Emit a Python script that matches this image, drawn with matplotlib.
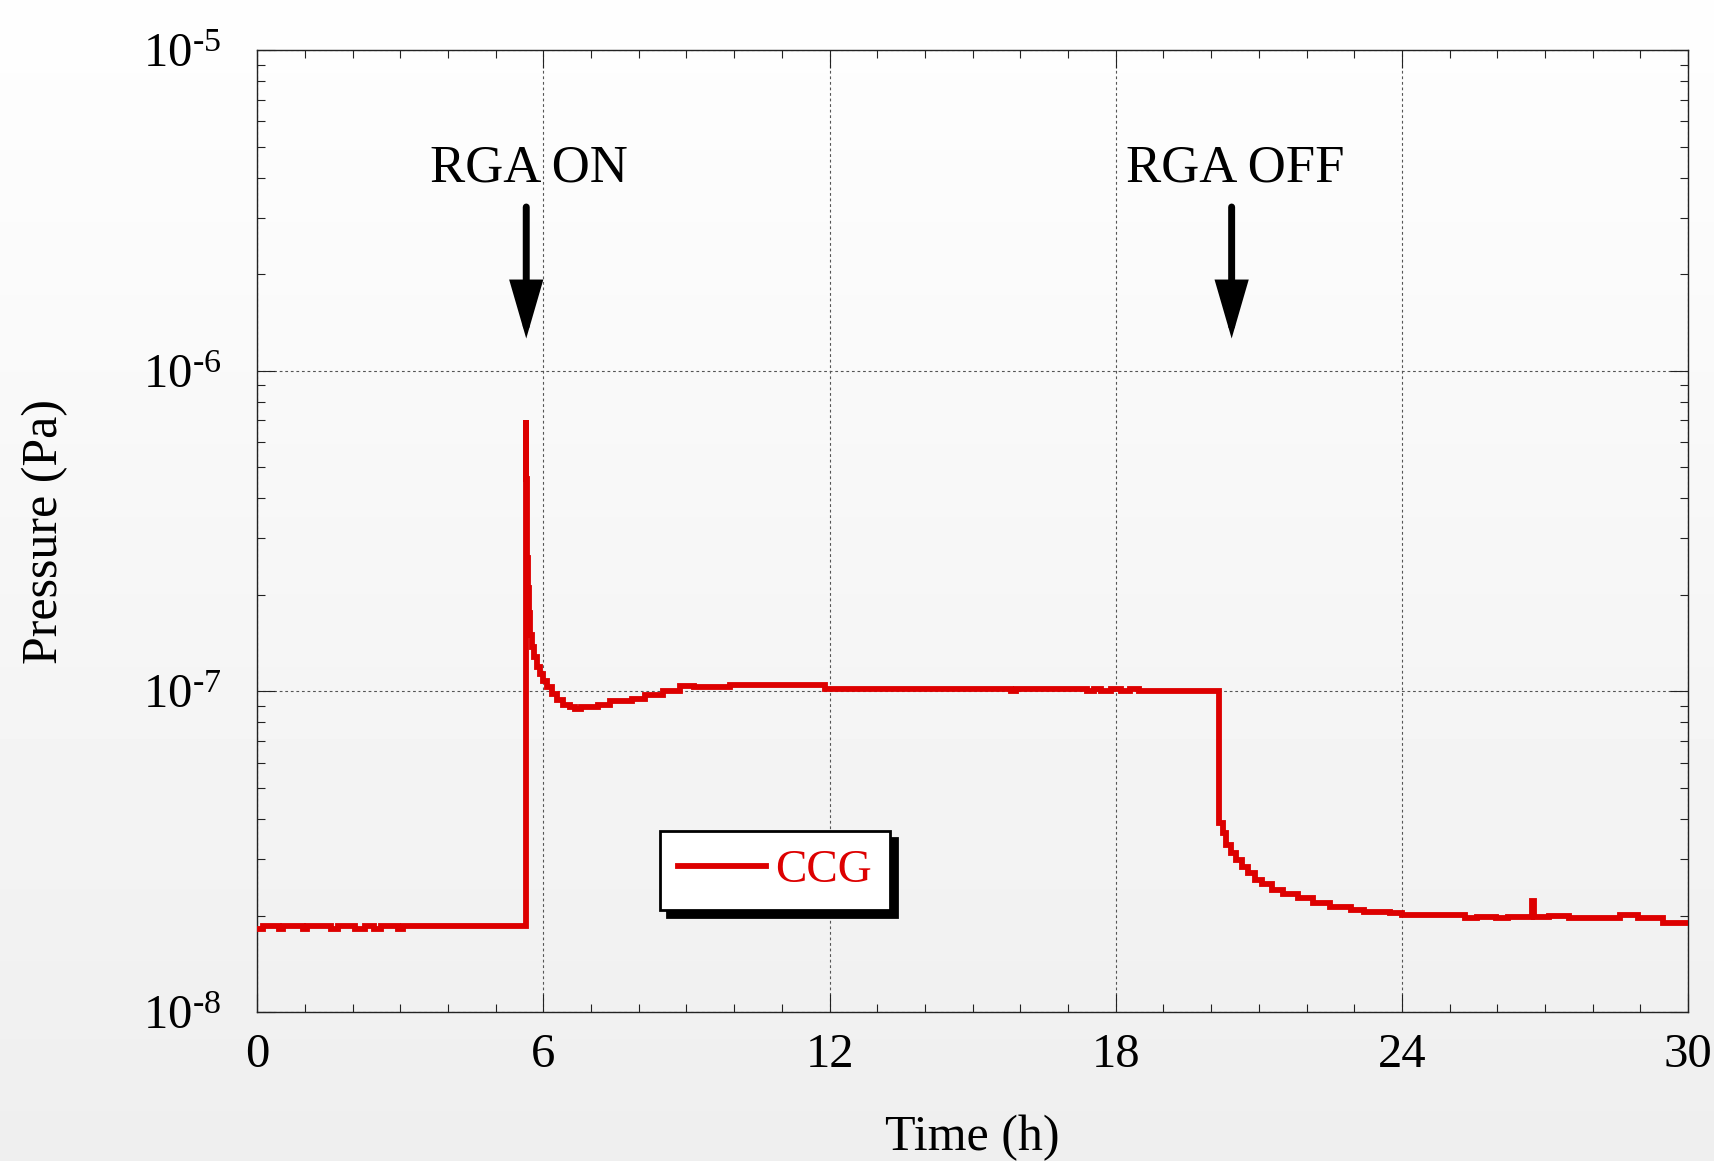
import numpy as np
import matplotlib
matplotlib.use('Agg')
import matplotlib.pyplot as plt
from matplotlib.ticker import FixedLocator, FixedFormatter, MultipleLocator, LogLocator, NullFormatter

plt.rcParams['font.family'] = ['Liberation Serif', 'DejaVu Serif']
plt.rcParams['mathtext.fontset'] = 'custom'
plt.rcParams['mathtext.rm'] = 'Liberation Serif'
plt.rcParams['mathtext.it'] = 'Liberation Serif:italic'

# CCG reading (step log): elapsed time in hours, pressure in Pa
hours = [0.00, 0.12, 0.45, 0.55, 0.95, 1.05, 1.55, 1.70, 2.05, 2.25,
         2.45, 2.60, 2.95, 3.05,
         5.63, 5.645, 5.655, 5.665, 5.68, 5.70, 5.72, 5.76, 5.81, 5.87,
         5.93, 6.00, 6.08, 6.17, 6.28, 6.42, 6.55, 6.66, 6.78, 7.14,
         7.40, 7.85, 8.13, 8.51, 8.86, 9.15, 9.91, 11.90, 15.80, 15.90,
         17.39, 17.55, 17.70, 17.90, 18.10, 18.30, 18.48,
         20.17, 20.24, 20.31, 20.42, 20.53, 20.64, 20.78, 20.92, 21.07,
         21.28, 21.50, 21.82, 22.14, 22.50, 22.93, 23.21, 23.75, 24.00,
         25.32, 25.58, 25.97, 26.22, 26.72, 26.76, 27.08, 27.51, 28.58,
         28.94, 29.48, 30.00]
pressure = [1.81e-8, 1.86e-8, 1.81e-8, 1.86e-8, 1.82e-8, 1.86e-8, 1.82e-8, 1.86e-8, 1.81e-8, 1.86e-8,
            1.82e-8, 1.86e-8, 1.82e-8, 1.86e-8,
            7.0e-7, 4.6e-7, 3.3e-7, 2.6e-7, 2.1e-7, 1.75e-7, 1.50e-7, 1.38e-7, 1.28e-7, 1.19e-7,
            1.13e-7, 1.08e-7, 1.03e-7, 9.8e-8, 9.4e-8, 9.1e-8, 8.95e-8, 8.82e-8, 8.95e-8, 9.1e-8,
            9.3e-8, 9.5e-8, 9.75e-8, 1.0e-7, 1.04e-7, 1.03e-7, 1.05e-7, 1.02e-7, 1.0e-7, 1.02e-7,
            1.0e-7, 1.02e-7, 1.0e-7, 1.02e-7, 1.0e-7, 1.02e-7, 1.0e-7,
            3.88e-8, 3.61e-8, 3.32e-8, 3.13e-8, 2.98e-8, 2.84e-8, 2.71e-8, 2.58e-8, 2.51e-8,
            2.40e-8, 2.33e-8, 2.26e-8, 2.19e-8, 2.13e-8, 2.08e-8, 2.05e-8, 2.03e-8, 2.01e-8,
            1.96e-8, 1.98e-8, 1.96e-8, 1.98e-8, 2.22e-8, 1.98e-8, 1.99e-8, 1.97e-8, 2.01e-8,
            1.96e-8, 1.90e-8, 1.90e-8]

x_ticks = [0, 6, 12, 18, 24, 30]
y_ticks = [1e-8, 1e-7, 1e-6, 1e-5]
y_tick_labels = [r'$\mathregular{10^{\text{-}8}}$', r'$\mathregular{10^{\text{-}7}}$',
                 r'$\mathregular{10^{\text{-}6}}$', r'$\mathregular{10^{\text{-}5}}$']

# RGA switch events: label, hour of switching
events = ['RGA ON', 'RGA OFF']
event_hours = [5.64, 20.43]
event_label_hours = [5.69, 20.50]

fig = plt.figure(figsize=(17.15, 11.61), dpi=100)

# soft vertical gradient behind everything
bg = fig.add_axes([0, 0, 1, 1], zorder=-1)
shade = np.linspace(0.996, 0.935, 256)[:, None]
bg.imshow(shade, cmap='gray', vmin=0, vmax=1, aspect='auto', extent=(0, 1, 0, 1))
bg.axis('off')

ax = fig.add_axes([0.150, 0.1283, 0.8343, 0.8286])
ax.set_facecolor('none')

ax.plot(hours, pressure, drawstyle='steps-post', color='#dd0000', lw=4.2,
        label='CCG', solid_joinstyle='miter', zorder=5)

ax.set_yscale('log')
ax.set_xlim(0, 30)
ax.set_ylim(1e-8, 1e-5)

ax.xaxis.set_major_locator(FixedLocator(x_ticks))
ax.xaxis.set_minor_locator(MultipleLocator(1))
ax.yaxis.set_major_locator(FixedLocator(y_ticks))
ax.yaxis.set_major_formatter(FixedFormatter(y_tick_labels))
ax.yaxis.set_minor_locator(LogLocator(base=10, subs=np.arange(2, 10)))
ax.yaxis.set_minor_formatter(NullFormatter())

ax.tick_params(which='both', direction='in', top=True, right=True,
               colors='#222222', width=0.8)
ax.tick_params(which='major', length=13)
ax.tick_params(which='minor', length=6)
ax.tick_params(axis='x', which='major', labelsize=35, pad=15, labelcolor='black')
ax.tick_params(axis='y', which='major', labelsize=35, pad=26, labelcolor='black')

for s in ax.spines.values():
    s.set_linewidth(1.0)
    s.set_color('#222222')

ax.grid(True, which='major', color='#555555', linestyle=(0, (2.5, 2.5)), lw=0.8)

ax.set_xlabel('Time (h)', fontsize=36)
ax.set_ylabel('Pressure (Pa)', fontsize=36)
ax.xaxis.set_label_coords(0.5, -0.107)
ax.yaxis.set_label_coords(-0.132, 0.5)

# event markers
for name, t_arrow, t_text in zip(events, event_hours, event_label_hours):
    ax.text(t_text, 3.88e-6, name, ha='center', va='baseline', fontsize=38)
    ax.annotate('', xy=(t_arrow, 1.26e-6), xytext=(t_arrow, 3.24e-6),
                arrowprops=dict(arrowstyle='-|>,head_length=3.1,head_width=0.9',
                                mutation_scale=10, lw=5, color='black',
                                shrinkA=0, shrinkB=0, joinstyle='miter'))

leg = ax.legend(loc='center', bbox_to_anchor=(0.362, 0.147), fontsize=34,
                handlelength=1.85, handletextpad=0.2, borderpad=0.38,
                fancybox=False, labelcolor='linecolor', framealpha=1,
                shadow={'ox': 5, 'oy': -5, 'facecolor': 'black',
                        'edgecolor': 'black', 'alpha': 1})
leg.get_frame().set_edgecolor('black')
leg.get_frame().set_linewidth(2)
leg.set_zorder(10)

fig.savefig('out.png', dpi=100)
